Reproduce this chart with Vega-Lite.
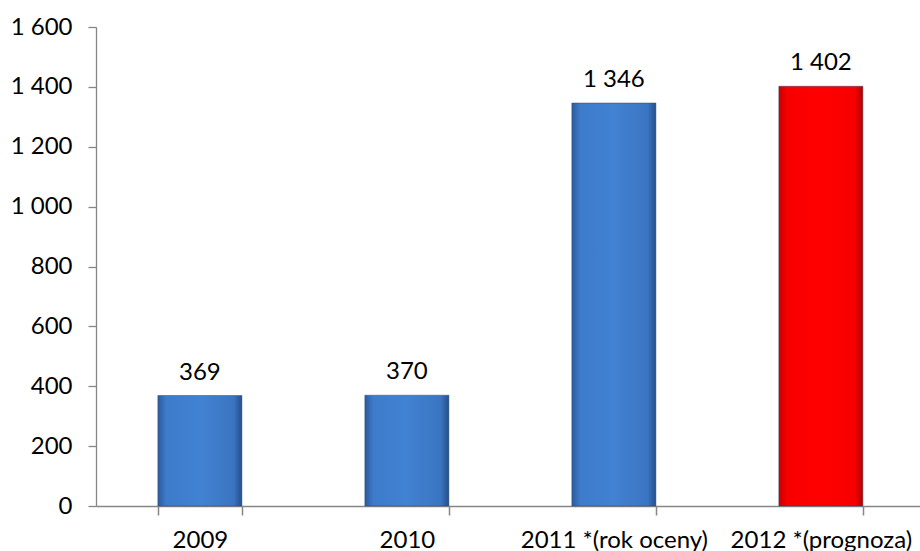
{
  "$schema": "https://vega.github.io/schema/vega-lite/v6.json",
  "autosize": {"type": "none"},
  "width": 824,
  "height": 479,
  "padding": {"left": 96, "top": 27, "right": 0, "bottom": 45},
  "background": "white",
  "config": {
    "view": {"stroke": null},
    "font": "Lato",
    "locale": {"number": {"decimal": ",", "thousands": " ", "grouping": [3], "currency": ["", ""]}}
  },
  "data": {
    "values": [
      {"rok": "2009", "wartosc": 369, "typ": "dane"},
      {"rok": "2010", "wartosc": 370, "typ": "dane"},
      {"rok": "2011 *(rok oceny)", "wartosc": 1346, "typ": "dane"},
      {"rok": "2012 *(prognoza)", "wartosc": 1402, "typ": "prognoza"}
    ]
  },
  "encoding": {
    "x": {
      "field": "rok", "type": "nominal", "sort": null, "title": null,
      "scale": {"paddingInner": 0.594, "paddingOuter": 0.2874, "align": 0.52},
      "axis": {
        "labelAngle": 0, "labelFontSize": 24, "labelColor": "#000000", "labelPadding": 13,
        "labelLimit": 0,
        "domainColor": "#868686", "tickColor": "#868686", "tickSize": 9, "tickBand": "extent",
        "ticks": true, "tickWidth": 1.5, "tickOpacity": 1, "domainWidth": 1.3,
        "labelFont": "Lato", "labelOverlap": false, "labelBound": false
      }
    },
    "y": {
      "field": "wartosc", "type": "quantitative", "title": null,
      "scale": {"domain": [0, 1600], "nice": false},
      "axis": {
        "values": [0, 200, 400, 600, 800, 1000, 1200, 1400, 1600],
        "format": ",d", "grid": false, "labelFontSize": 24, "labelColor": "#000000",
        "labelPadding": 16, "domainColor": "#868686", "tickColor": "#868686", "tickSize": 8,
        "tickWidth": 1.3, "domainWidth": 1.3,
        "labelFont": "Lato"
      }
    }
  },
  "layer": [
    {
      "mark": {"type": "bar", "stroke": "#23446e", "strokeWidth": 0.8, "strokeOpacity": 0.6},
      "encoding": {
        "color": {
          "condition": {
            "test": "datum.typ === 'prognoza'",
            "value": {"gradient": "linear", "x1": 0, "y1": 0, "x2": 1, "y2": 0,
              "stops": [
                {"offset": 0, "color": "#c80000"},
                {"offset": 0.1, "color": "#f80000"},
                {"offset": 0.5, "color": "#ff0000"},
                {"offset": 0.9, "color": "#f80000"},
                {"offset": 1, "color": "#b40000"}
              ]}
          },
          "value": {"gradient": "linear", "x1": 0, "y1": 0, "x2": 1, "y2": 0,
            "stops": [
              {"offset": 0, "color": "#2b5c9c"},
              {"offset": 0.1, "color": "#3d7bcb"},
              {"offset": 0.5, "color": "#4282d2"},
              {"offset": 0.9, "color": "#3a75c2"},
              {"offset": 1, "color": "#25508a"}
            ]}
        }
      }
    },
    {
      "mark": {"type": "text", "baseline": "bottom", "dy": -11, "fontSize": 24, "color": "#000000", "font": "Lato"},
      "encoding": {
        "text": {"field": "wartosc", "type": "quantitative", "format": ",d"}
      }
    }
  ]
}
